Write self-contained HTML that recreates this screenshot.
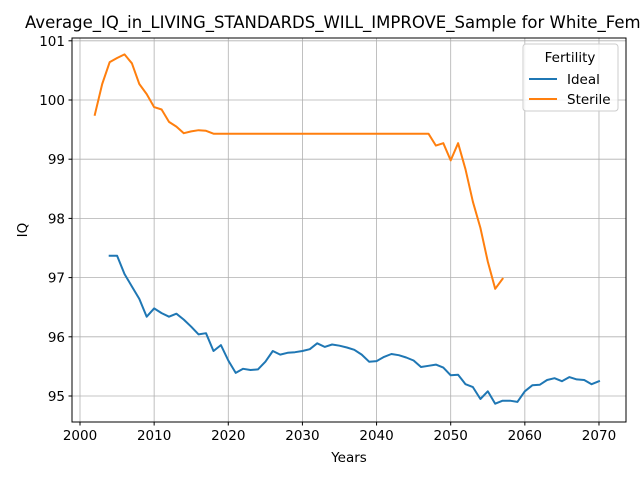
<!DOCTYPE html>
<html><head><meta charset="utf-8"><style>
body{margin:0;background:#fff;overflow:hidden}
svg{font-family:"DejaVu Sans","Liberation Sans",sans-serif}
</style></head><body>
<svg id="chart" width="640" height="480" xmlns="http://www.w3.org/2000/svg">
<text x="25" y="28" font-size="16.5" fill="#000">Average_IQ_in_LIVING_STANDARDS_WILL_IMPROVE_Sample for White_Female</text>
<g id="grid"></g>
<g id="series"></g>
<rect x="72" y="38" width="554" height="384" fill="none" stroke="#000" stroke-width="1"/>
<g id="xticks"></g><g id="yticks"></g>
<text x="349" y="462" font-size="13.5" text-anchor="middle">Years</text>
<text x="27" y="230" font-size="13.5" text-anchor="middle" transform="rotate(-90 27 230)">IQ</text>
<g>
<rect x="523" y="44" width="95" height="67" rx="3" fill="#fff" fill-opacity="0.8" stroke="#ccc"/>
<text x="570" y="62" font-size="13.5" text-anchor="middle">Fertility</text>
<line x1="529" y1="79" x2="557" y2="79" stroke="#1f77b4" stroke-width="2"/>
<text x="567" y="84" font-size="13.5">Ideal</text>
<line x1="529" y1="99" x2="557" y2="99" stroke="#ff7f0e" stroke-width="2"/>
<text x="567" y="104" font-size="13.5">Sterile</text>
</g>
</svg>
<script>
const xTicks=[2000,2010,2020,2030,2040,2050,2060,2070];
const yTicks=[95,96,97,98,99,100,101];
const sterileYears=[];for(let y=2002;y<=2057;y++)sterileYears.push(y);
const sterileValues=[99.75,100.27,100.64,100.71,100.77,100.62,100.27,100.1,99.88,99.84,99.63,99.55,99.44,99.47,99.49,99.48,99.43,99.43,99.43,99.43,99.43,99.43,99.43,99.43,99.43,99.43,99.43,99.43,99.43,99.43,99.43,99.43,99.43,99.43,99.43,99.43,99.43,99.43,99.43,99.43,99.43,99.43,99.43,99.43,99.43,99.43,99.23,99.27,98.98,99.27,98.83,98.28,97.84,97.27,96.81,96.98];
const idealYears=[];for(let y=2004;y<=2070;y++)idealYears.push(y);
const idealValues=[97.37,97.37,97.06,96.85,96.64,96.34,96.48,96.4,96.34,96.39,96.29,96.17,96.04,96.06,95.76,95.86,95.6,95.39,95.46,95.44,95.45,95.58,95.76,95.7,95.73,95.74,95.76,95.79,95.89,95.83,95.87,95.85,95.82,95.78,95.7,95.58,95.59,95.66,95.71,95.69,95.65,95.6,95.49,95.51,95.53,95.48,95.35,95.36,95.2,95.15,94.95,95.08,94.87,94.92,94.92,94.9,95.08,95.18,95.19,95.27,95.3,95.25,95.32,95.28,95.27,95.2,95.25];
const NS='http://www.w3.org/2000/svg';
const xs=v=>80+(v-2000)*74.14/10;
const ys=v=>396-(v-95)*59.2;
function mk(t,a,p){const e=document.createElementNS(NS,t);for(const k in a)e.setAttribute(k,a[k]);p.appendChild(e);return e;}
const grid=document.getElementById('grid'),xt=document.getElementById('xticks'),yt=document.getElementById('yticks'),ser=document.getElementById('series');
xTicks.forEach(v=>{const x=xs(v);
 const g=mk('line',{x1:x,y1:38,x2:x,y2:422,stroke:'#b0b0b0','stroke-width':0.8},grid);
 
 
 mk('line',{x1:x,y1:422,x2:x,y2:425.5,stroke:'#000'},xt);
 const t=mk('text',{x:x,y:440,'font-size':13.5,'text-anchor':'middle'},xt);t.textContent=v;
 
 });
yTicks.forEach(v=>{const y=ys(v);
 const g=mk('line',{x1:72,y1:y,x2:626,y2:y,stroke:'#b0b0b0','stroke-width':0.8},grid);
 
 
 mk('line',{x1:68.5,y1:y,x2:72,y2:y,stroke:'#000'},yt);
 const t=mk('text',{x:65,y:y+5,'font-size':13.5,'text-anchor':'end'},yt);t.textContent=v;
 
 });
function line(xsArr,vals,color,name){
 const d=vals.map((v,i)=>(i?'L':'M')+xs(xsArr[i]).toFixed(1)+','+ys(v).toFixed(1)).join('');
 const p=mk('path',{d:d,fill:'none',stroke:color,'stroke-width':2,'stroke-linejoin':'round','stroke-linecap':'square'},ser);
 
 }
line(idealYears,idealValues,'#1f77b4','ideal-line');
line(sterileYears,sterileValues,'#ff7f0e','sterile-line');
</script>
</body></html>
